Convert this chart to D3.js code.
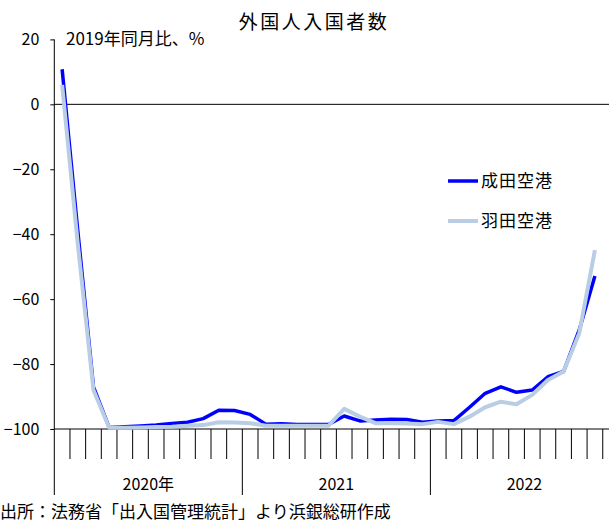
<!DOCTYPE html>
<html>
<head>
<meta charset="utf-8">
<script src="https://cdn.jsdelivr.net/npm/d3@7"></script>
<style>
  body { margin: 0; background: #fff; }
  svg { display: block; font-family: "Noto Sans CJK JP", "Noto Sans", sans-serif; }
</style>
</head>
<body>
<div id="chart-area"></div>
<script>
// months on the category axis (2020-01 .. 2022-12)
var months = [];
for (var yr = 2020; yr <= 2022; yr++) {
  for (var m = 1; m <= 12; m++) months.push(yr + "-" + (m < 10 ? "0" + m : m));
}
var years = ["2020年", "2021", "2022"];
var yTicks = [20, 0, -20, -40, -60, -80, -100];

// 2019年同月比 (%), 2020-01 .. 2022-11
var narita = [10.8, -39, -87, -99.5, -99.3, -99.1, -98.8, -98.3, -97.9, -96.8,
  -94.2, -94.3, -95.5, -98.5, -98.4, -98.6, -98.6, -98.6, -96.0, -97.5,
  -97.2, -97.0, -97.1, -97.9, -97.5, -97.4, -93.3, -89.0, -87.0, -88.7,
  -88.0, -83.9, -82.3, -69.5, -52.9];
var haneda = [6, -43, -88, -99.6, -99.6, -99.5, -99.4, -99.3, -99.0, -98.8,
  -97.9, -98.0, -98.2, -99.0, -99.0, -99.0, -99.0, -99.0, -93.8, -96.2,
  -98.2, -98.2, -98.3, -98.5, -97.8, -98.5, -96.2, -93.3, -91.6, -92.4,
  -89.5, -84.9, -82.3, -70.5, -44.9];

var series = [
  { name: "成田空港", values: narita, color: "#0000ff", width: 3.5 },
  { name: "羽田空港", values: haneda, color: "#b9cde5", width: 4 }
];

var W = 609, H = 523;
var x0 = 54.3, monthW = 15.67;
var axisY = 429;

var svg = d3.select("#chart-area")
  .append("svg")
  .attr("width", W)
  .attr("height", H);

var xscale = d3.scaleBand()
  .domain(months)
  .range([x0, x0 + monthW * months.length])
  .padding(0);
var yscale = d3.scaleLinear().domain([-100, 20]).range([axisY, 39.4]);

// title
svg.append("text")
  .attr("x", 314)
  .attr("y", 29)
  .attr("text-anchor", "middle")
  .attr("font-size", "19px")
  .attr("letter-spacing", "2.5px")
  .attr("fill", "#000")
  .text("外国人入国者数");

// unit label
svg.append("text")
  .attr("x", 66)
  .attr("y", 45)
  .attr("font-size", "17px")
  .text("2019年同月比、%");

// y axis
var yAxis = d3.axisLeft(yscale)
  .tickValues(yTicks)
  .tickSize(4)
  .tickFormat(function (d) { return d < 0 ? "\u2212" + Math.abs(d) : d; });
var gy = svg.append("g")
  .attr("transform", "translate(" + x0 + ",0)")
  .call(yAxis);
gy.select(".domain").remove();
gy.selectAll("line").attr("stroke", "#000");
gy.selectAll("text")
  .attr("x", -15)
  .attr("font-size", "16px")
  .attr("font-family", "'Noto Sans CJK JP', sans-serif")
  .attr("fill", "#000");

// vertical axis line, extended down to the year band
svg.append("line")
  .attr("x1", x0).attr("x2", x0)
  .attr("y1", yscale(20)).attr("y2", 495)
  .attr("stroke", "#000");

// zero line
svg.append("line")
  .attr("x1", x0).attr("x2", W)
  .attr("y1", yscale(0)).attr("y2", yscale(0))
  .attr("stroke", "#000");

// category axis at -100
svg.append("line")
  .attr("x1", x0).attr("x2", W)
  .attr("y1", axisY).attr("y2", axisY)
  .attr("stroke", "#000");

// month ticks (year starts get long ticks)
svg.selectAll("line.mtick")
  .data(months.slice(1))
  .enter()
  .append("line")
  .attr("class", "mtick")
  .attr("x1", function (d) { return xscale(d); })
  .attr("x2", function (d) { return xscale(d); })
  .attr("y1", axisY)
  .attr("y2", function (d) { return d.slice(5) === "01" ? 495 : 459; })
  .attr("stroke", "#000");

// year labels
svg.selectAll("text.year")
  .data(years)
  .enter()
  .append("text")
  .attr("class", "year")
  .attr("x", function (d, i) {
    return xscale(months[i * 12]) + monthW * 6;
  })
  .attr("y", 490)
  .attr("text-anchor", "middle")
  .attr("font-size", "16px")
  .text(function (d) { return d; });

// lines
var line = d3.line()
  .x(function (d, i) { return xscale(months[i]) + xscale.bandwidth() / 2; })
  .y(function (d) { return yscale(d); });

svg.selectAll("path.series")
  .data(series)
  .enter()
  .append("path")
  .attr("class", "series")
  .attr("d", function (d) { return line(d.values); })
  .attr("fill", "none")
  .attr("stroke", function (d) { return d.color; })
  .attr("stroke-width", function (d) { return d.width; })
  .attr("stroke-linejoin", "round");

// legend
var legend = svg.selectAll("g.legend")
  .data(series)
  .enter()
  .append("g")
  .attr("class", "legend")
  .attr("transform", function (d, i) { return "translate(448," + (181 + i * 40) + ")"; });
legend.append("line")
  .attr("x1", 0).attr("x2", 30)
  .attr("stroke", function (d) { return d.color; })
  .attr("stroke-width", function (d) { return d.width; });
legend.append("text")
  .attr("x", 33)
  .attr("y", 6)
  .attr("font-size", "17px")
  .attr("letter-spacing", "1px")
  .text(function (d) { return d.name; });

// source
svg.append("text")
  .attr("x", 0)
  .attr("y", 518)
  .attr("font-size", "17px")
  .text("出所：法務省「出入国管理統計」より浜銀総研作成");
</script>
</body>
</html>
